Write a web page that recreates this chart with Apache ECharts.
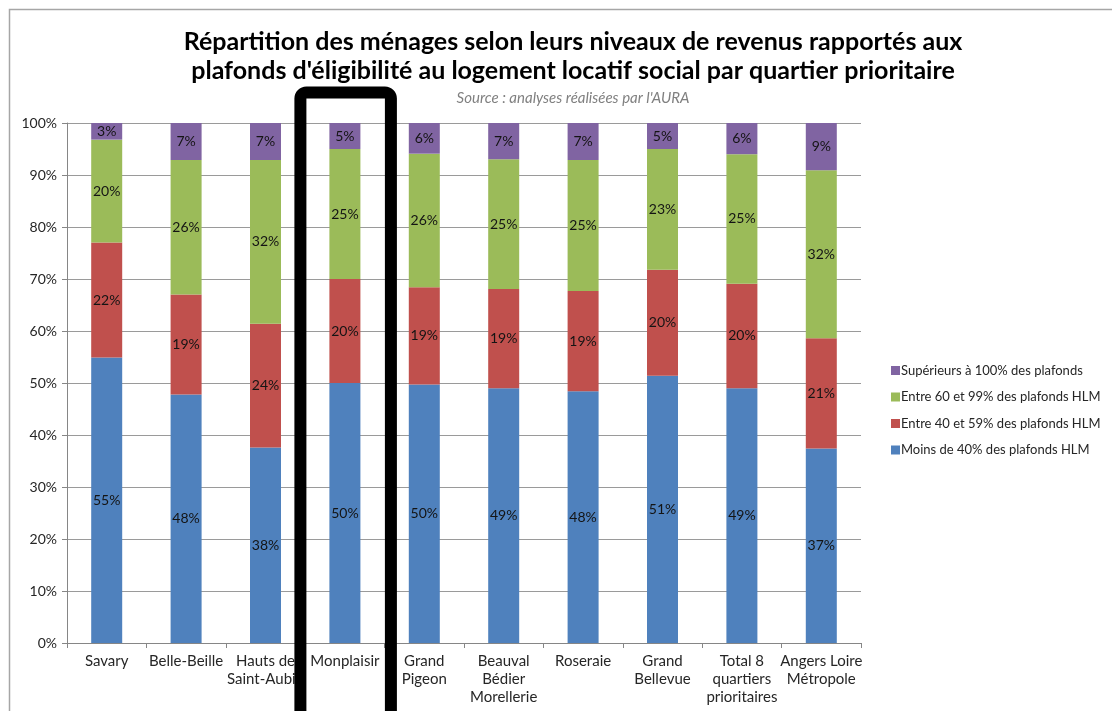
<!DOCTYPE html>
<html>
<head>
<meta charset="utf-8">
<script src="https://cdn.jsdelivr.net/npm/echarts@6/dist/echarts.min.js"></script>
<style>
html,body{margin:0;padding:0;background:#fff;}
#c{width:1112px;height:711px;}
</style>
</head>
<body>
<div id="c"></div>
<script>
const categories = ["Savary", "Belle-Beille", "Hauts de\nSaint-Aubin", "Monplaisir", "Grand\nPigeon", "Beauval\nBédier\nMorellerie", "Roseraie", "Grand\nBellevue", "Total 8\nquartiers\nprioritaires", "Angers Loire\nMétropole"];
const moins40 =   [54.9, 47.8, 37.6, 50.0, 49.7, 49.0, 48.4, 51.4, 49.0, 37.4];
const entre40_59 = [22.1, 19.2, 23.8, 20.0, 18.7, 19.1, 19.3, 20.4, 20.1, 21.2];
const entre60_99 = [19.8, 25.9, 31.5, 25.0, 25.7, 24.95, 25.2, 23.2, 24.9, 32.3];
const sup100 =    [3.2, 7.1, 7.1, 5.0, 5.9, 6.95, 7.1, 5.0, 6.0, 9.1];
const seriesNames = ["Moins de 40% des plafonds HLM", "Entre 40 et 59% des plafonds HLM", "Entre 60 et 99% des plafonds HLM", "Supérieurs à 100% des plafonds"];
const yTicks = {min: 0, max: 100, interval: 10};
const highlighted = "Monplaisir";

const FONT = "Lato, 'DejaVu Sans', sans-serif";
const colors = ['#4F81BD', '#C0504D', '#9BBB59', '#8064A2'];
const dataSets = [moins40, entre40_59, entre60_99, sup100];

const chart = echarts.init(document.getElementById('c'), null, {renderer: 'canvas'});

const series = dataSets.map((d, i) => ({
  name: seriesNames[i],
  type: 'bar',
  stack: 'total',
  data: d,
  barWidth: 31,
  itemStyle: {color: colors[i]},
  label: {
    show: true,
    position: 'inside',
    formatter: p => Math.round(p.value) + '%',
    color: '#141414',
    fontFamily: FONT,
    fontSize: 14
  },
  emphasis: {disabled: true}
}));

chart.setOption({
  backgroundColor: '#fff',
  animation: false,
  textStyle: {fontFamily: FONT},
  title: [{
    text: "Répartition des ménages selon leurs niveaux de revenus rapportés aux\nplafonds d'éligibilité au logement locatif social par quartier prioritaire",
    left: 568, top: 22, textAlign: 'center',
    textStyle: {fontFamily: FONT, fontSize: 25, fontWeight: 'bold', color: '#000', lineHeight: 29}
  }, {
    text: "Source : analyses réalisées par l'AURA",
    left: 568, top: 86, textAlign: 'center',
    textStyle: {fontFamily: FONT, fontSize: 15, fontStyle: 'italic', fontWeight: 'normal', color: '#808080'}
  }],
  legend: {
    orient: 'vertical',
    left: 886, top: 359,
    itemWidth: 9, itemHeight: 9, itemGap: 13.5,
    icon: 'rect',
    data: [seriesNames[3], seriesNames[2], seriesNames[1], seriesNames[0]],
    textStyle: {fontFamily: FONT, fontSize: 13, color: '#262626', padding: [0, 0, 0, -4]},
    selectedMode: false
  },
  grid: {left: 67, right: 251, top: 123, bottom: 68},
  xAxis: {
    type: 'category',
    data: categories,
    axisLine: {lineStyle: {color: '#868686'}},
    axisTick: {show: true, length: 5, lineStyle: {color: '#868686'}},
    axisLabel: {interval: 0, fontFamily: FONT, fontSize: 15, color: '#262626', lineHeight: 18, margin: 9}
  },
  yAxis: {
    type: 'value',
    min: yTicks.min, max: yTicks.max, interval: yTicks.interval,
    axisLine: {show: true, lineStyle: {color: '#868686'}},
    axisTick: {show: true, length: 5, lineStyle: {color: '#868686'}},
    axisLabel: {formatter: '{value}%', fontFamily: FONT, fontSize: 14, color: '#262626', margin: 10},
    splitLine: {lineStyle: {color: '#9a9a9a'}}
  },
  series: series
});

// Outer frame and highlight box around the highlighted category
const cx = chart.convertToPixel({xAxisIndex: 0}, categories.indexOf(highlighted));
chart.setOption({
  graphic: [{
    type: 'rect', z: -1, silent: true,
    shape: {x: 9.5, y: 9.5, width: 1300, height: 900},
    style: {fill: null, stroke: '#a6a6a6', lineWidth: 1.5}
  }, {
    type: 'rect', z: 100, silent: true,
    shape: {x: cx - 44.5, y: 92.5, width: 90.5, height: 700, r: 6},
    style: {fill: null, stroke: '#000', lineWidth: 12}
  }]
});
</script>
</body>
</html>
